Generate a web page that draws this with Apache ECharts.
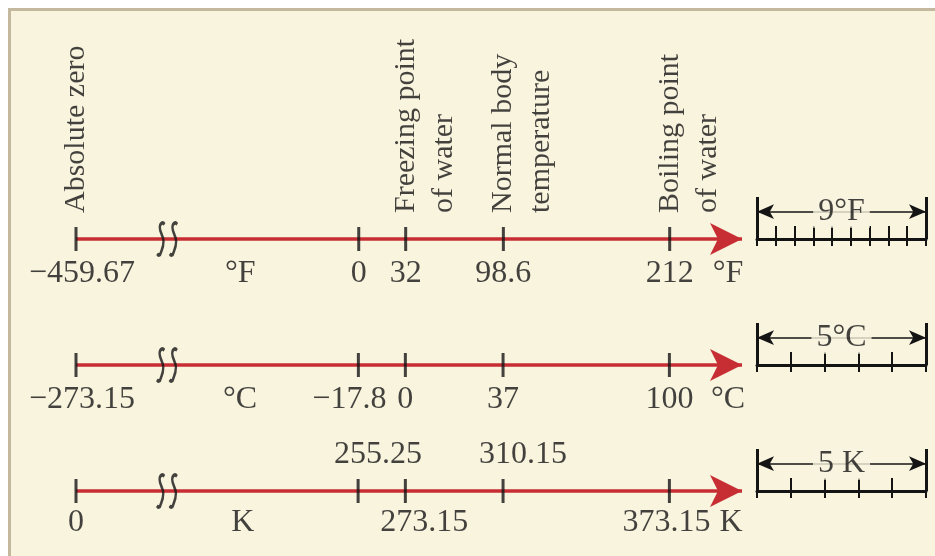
<!DOCTYPE html>
<html>
<head>
<meta charset="utf-8">
<title>Temperature scales</title>
<script src="https://cdn.jsdelivr.net/npm/echarts@6/dist/echarts.min.js"></script>
<style>
  html, body { margin: 0; padding: 0; background: #fff; }
  #main { width: 935px; height: 556px; }
</style>
</head>
<body>
<div id="main"></div>
<script>
// tick values of the three scales, and the text printed at each
var fahrenheitTicks = [-459.67, 0, 32, 98.6, 212];
var fahrenheitLabels = ['−459.67', '0', '32', '98.6', '212'];
var celsiusTicks = [-273.15, -17.8, 0, 37, 100];
var celsiusLabels = ['−273.15', '−17.8', '0', '37', '100'];
var kelvinTicks = [0, 255.25, 273.15, 310.15, 373.15];
var kelvinLabels = ['0', '255.25', '273.15', '310.15', '373.15'];
var kelvinLabelSide = ['below', 'above', 'below', 'above', 'below'];

// named reference points, in °F
var markerTemps = [-459.67, 32, 98.6, 212];
var markerNames = ['Absolute zero', 'Freezing point\nof water', 'Normal body\ntemperature', 'Boiling point\nof water'];

var unitNames = ['°F', '°C', 'K'];
var degreeSteps = [9, 5, 5];
var stepNames = ['9°F', '5°C', '5 K'];

// axis extents per scale (own unit) and the cut after absolute zero
var axisMin = [-459.67, -273.15, 0];
var axisMax = [261.3, 127.5, 400.65];
var breakStart = [-397.5, -238.7, 34.45];
var breakEnd = [-130.6, -90.3, 182.85];
var unitMidValue = [-80.8, -62.6, 211.6];

var RED = '#c62e33', INK = '#141414', PAPER = '#f9f4de';
var FONT = "'Liberation Serif', 'DejaVu Serif', serif";
var rowY = [239, 365, 491];
var miniTop = [197, 323, 449];
var ticksByRow = [fahrenheitTicks, celsiusTicks, kelvinTicks];
var labelsByRow = [fahrenheitLabels, celsiusLabels, kelvinLabels];
var sideByRow = [null, null, kelvinLabelSide];
var nudge = [[6, 0, 0, 0, 0], [6, -9, 0, 0, 0], [0, 20, 19, 20, -3]];
var endUnitShift = [-14, -14, -11];
var BREAK_PATH = 'path://M8,2 C6.5,-0.5 3.5,0.5 3.5,5 C3.5,10 7,13 7,18 C7,24 5,27 4.5,29 C4,31.5 2,32 1,30 ' +
                 'M20,2 C18.5,-0.5 15.5,0.5 15.5,5 C15.5,10 19,13 19,18 C19,24 17,27 16.5,29 C16,31.5 14,32 13,30';
var textStyle = { color: INK, fontFamily: FONT, fontSize: 30, textBorderWidth: 0 };
var numberStyle = { color: INK, fontFamily: FONT, fontSize: 32, textBorderWidth: 0 };
var hidden = 'rgba(0,0,0,0)';

var chart = echarts.init(document.getElementById('main'));
var grids = [], xAxes = [], yAxes = [], series = [];

for (var i = 0; i < 3; i++) {
    grids.push({ left: 76, right: 193, top: rowY[i] - 20, height: 40 });
    xAxes.push({
        gridIndex: i, type: 'value', min: axisMin[i], max: axisMax[i],
        breaks: [{ start: breakStart[i], end: breakEnd[i], gap: 0 }],
        breakArea: { show: false },
        axisLine: { show: false }, axisTick: { show: false },
        axisLabel: { show: false }, splitLine: { show: false }
    });
    yAxes.push({ gridIndex: i, type: 'value', min: -1, max: 1, show: false });

    // red scale line ending in an arrow head
    series.push({
        type: 'line', xAxisIndex: i, yAxisIndex: i, silent: true, z: 2,
        lineStyle: { color: RED, width: 3.5 },
        data: [
            { value: [axisMin[i], 0], symbol: 'none' },
            { value: [axisMax[i], 0], symbol: 'arrow', symbolSize: [24, 32], symbolRotate: -90,
              itemStyle: { color: RED } }
        ]
    });

    // ticks with their values
    var side = sideByRow[i];
    series.push({
        type: 'scatter', xAxisIndex: i, yAxisIndex: i, silent: true, z: 4,
        symbol: 'rect', symbolSize: [3, 24], itemStyle: { color: INK },
        label: Object.assign({ show: true, position: 'inside' }, numberStyle),
        data: ticksByRow[i].map(function (v, k) {
            var above = side && side[k] === 'above';
            var dy = above ? -36 : (i === 2 ? 32 : 35);
            return { value: [v, 0], label: { formatter: labelsByRow[i][k], offset: [nudge[i][k], dy] } };
        })
    });

    // unit names
    var udy = i === 2 ? 32 : 35;
    series.push({
        type: 'scatter', xAxisIndex: i, yAxisIndex: i, silent: true, z: 4,
        symbolSize: 1, itemStyle: { color: hidden },
        label: Object.assign({ show: true, position: 'inside' }, numberStyle),
        data: [
            { value: [unitMidValue[i], 0], label: { formatter: unitNames[i], offset: [0, udy] } },
            { value: [axisMax[i], 0], label: { formatter: unitNames[i], offset: [endUnitShift[i], udy] } }
        ]
    });

    // break mark
    series.push({
        type: 'scatter', xAxisIndex: i, yAxisIndex: i, silent: true, z: 5,
        symbol: BREAK_PATH, symbolSize: [20, 32],
        itemStyle: { color: 'none', borderColor: INK, borderWidth: 3 },
        data: [[breakStart[i], 0]]
    });
}

// rotated names above the Fahrenheit scale (offset is in the rotated frame)
series.push({
    type: 'scatter', xAxisIndex: 0, yAxisIndex: 0, silent: true, z: 4,
    symbolSize: 1, itemStyle: { color: hidden },
    label: Object.assign({
        show: true, position: 'inside', formatter: '{b}', rotate: 90,
        align: 'left', verticalAlign: 'top', lineHeight: 38, offset: [26, -19]
    }, textStyle),
    data: markerTemps.map(function (t, k) { return { value: [t, 0], name: markerNames[k] }; })
});

// small rulers on the right
for (var j = 0; j < 3; j++) {
    var g = 3 + j;
    grids.push({ left: 757, right: 9, top: miniTop[j], height: rowY[j] - miniTop[j] });
    xAxes.push({
        gridIndex: g, type: 'value', min: 0, max: degreeSteps[j], interval: 1, position: 'bottom',
        axisLine: { show: true, onZero: false, lineStyle: { color: INK, width: 3 } },
        axisTick: { show: true, inside: true, length: 13, lineStyle: { color: INK, width: 2 } },
        axisLabel: { show: false }, splitLine: { show: false }
    });
    yAxes.push({ gridIndex: g, type: 'value', min: 0, max: 1, show: false });

    series.push({
        type: 'scatter', xAxisIndex: g, yAxisIndex: g, silent: true, z: 6,
        symbolSize: 1, itemStyle: { color: hidden },
        label: Object.assign({
            show: true, position: 'inside', formatter: stepNames[j],
            backgroundColor: PAPER, padding: [0, 5]
        }, numberStyle),
        data: [[degreeSteps[j] / 2, 0.65]],
        markLine: {
            silent: true, symbol: ['arrow', 'arrow'], symbolSize: [11, 17],
            lineStyle: { color: INK, width: 1.5, type: 'solid' }, label: { show: false },
            data: [[{ coord: [0, 0.65] }, { coord: [degreeSteps[j], 0.65] }]]
        }
    });
    series.push({
        type: 'scatter', xAxisIndex: g, yAxisIndex: g, silent: true, z: 3,
        symbolSize: 0, data: [[0, 0]],
        markLine: {
            silent: true, symbol: 'none',
            lineStyle: { color: INK, width: 3, type: 'solid' }, label: { show: false },
            data: [{ xAxis: 0 }, { xAxis: degreeSteps[j] }]
        }
    });
}
for (var m = 0; m < 3; m++) {
    // short ticks under each ruler
    xAxes.push({
        gridIndex: 3 + m, type: 'value', min: 0, max: degreeSteps[m], interval: 1, position: 'bottom',
        axisLine: { show: false, onZero: false },
        axisTick: { show: true, inside: false, length: 7, lineStyle: { color: INK, width: 2 } },
        axisLabel: { show: false }, splitLine: { show: false }
    });
}

chart.setOption({
    backgroundColor: '#fff',
    animation: false,
    graphic: [{
        type: 'rect', z: -10, silent: true,
        shape: { x: 9.5, y: 9.5, width: 1000, height: 1000 },
        style: { fill: PAPER, stroke: '#c4b99e', lineWidth: 3 }
    }],
    grid: grids,
    xAxis: xAxes,
    yAxis: yAxes,
    series: series
});
</script>
</body>
</html>
